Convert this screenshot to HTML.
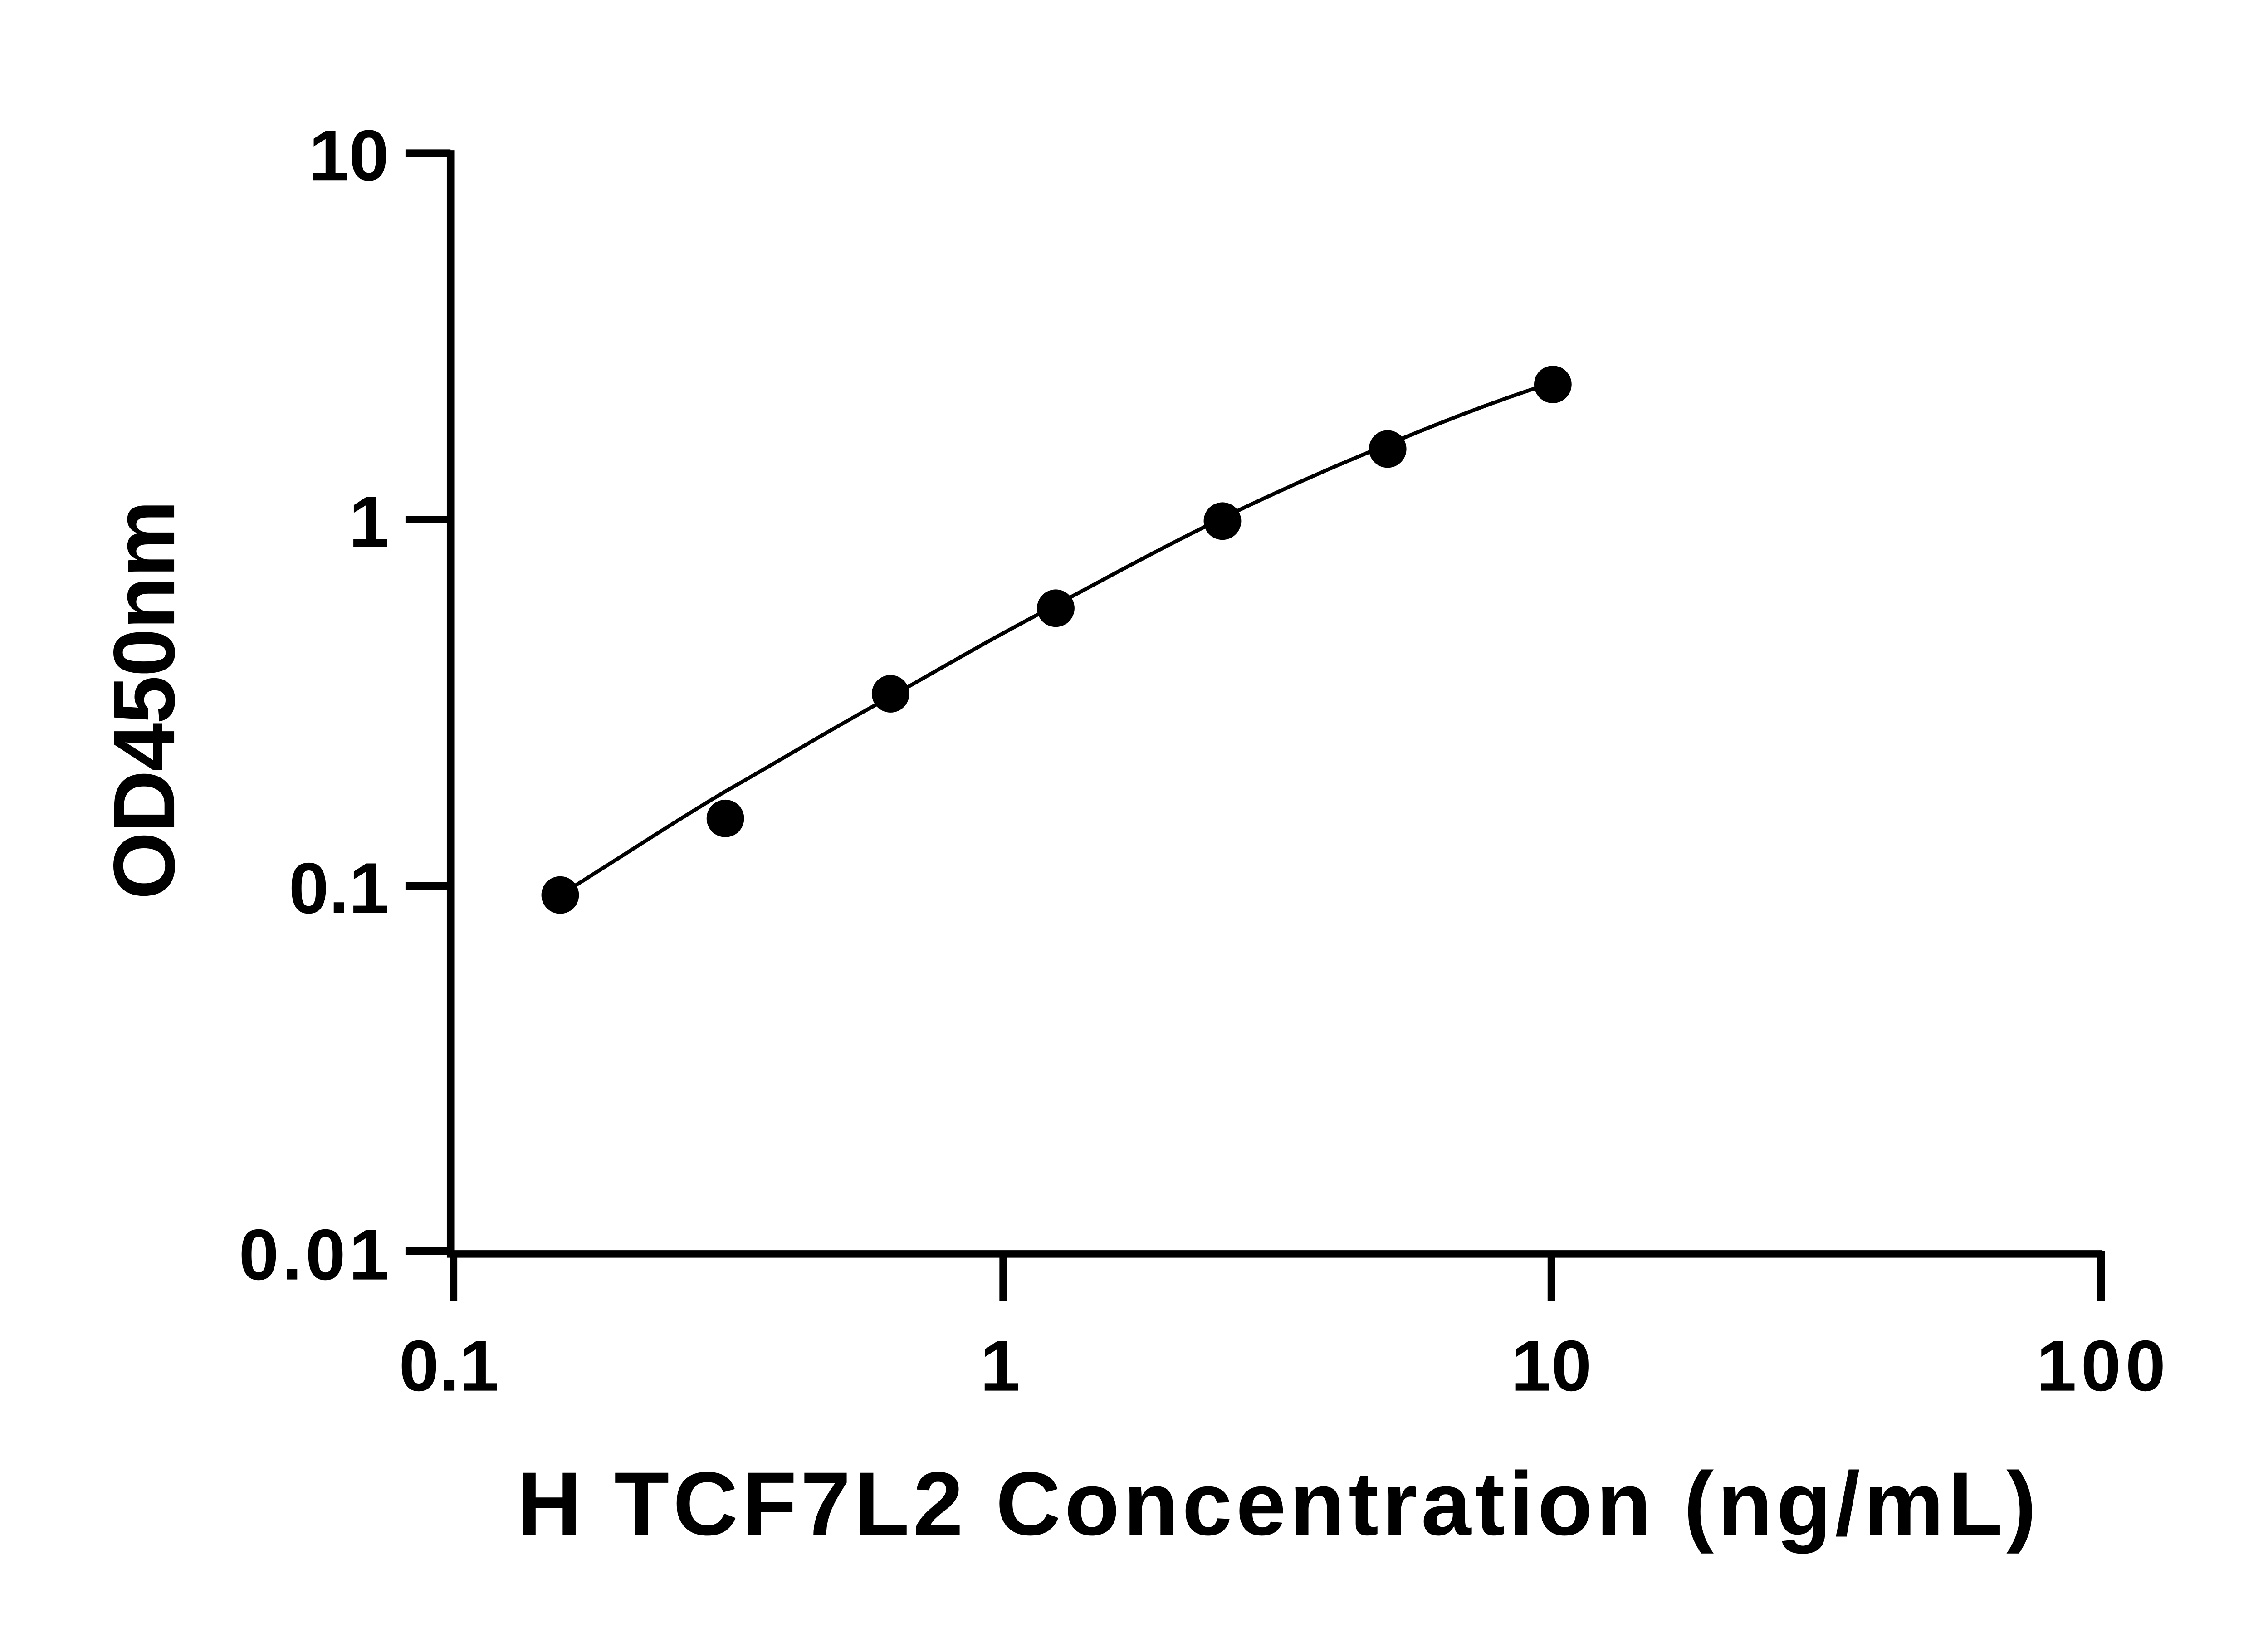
<!DOCTYPE html>
<html><head><meta charset="utf-8"><style>html,body{margin:0;padding:0;background:#fff}svg{display:block}</style></head>
<body>
<svg width="5142" height="3600" viewBox="0 0 1553.1 1087.4" preserveAspectRatio="none" xmlns="http://www.w3.org/2000/svg">
<g stroke="#000" stroke-width="5" fill="none" stroke-linecap="butt">
<path d="M300,100 V835 H1400"/>
<path d="M270,102 H300 M270,346 H300 M270,590 H300 M270,833 H300"/>
<path d="M302,833 V866 M668,833 V866 M1033,833 V866 M1399,833 V866"/>
</g>
<path d="M373,596 C410,573 446,549 483,527 C520,506 556,484 593,464 C630,443 666,422 703,403 C740,383 777,363 814,345 C851,327 887,311 924,296 C960,281 993,268 1030,256" stroke="#000" stroke-width="2.5" fill="none"/>
<g fill="#000">
<circle cx="373" cy="596" r="12.5"/><circle cx="483" cy="545" r="12.5"/><circle cx="593" cy="462" r="12.5"/><circle cx="703" cy="405" r="12.5"/><circle cx="814" cy="347" r="12.5"/><circle cx="924" cy="299" r="12.5"/><circle cx="1034" cy="256" r="12.5"/>
</g>
<g font-family="Liberation Sans, sans-serif" font-weight="bold" font-size="48" fill="#000">
<g text-anchor="end">
<text x="259" y="120">10</text><text x="259" y="364">1</text><text x="259" y="608">0.1</text><text x="259" y="852" textLength="100" lengthAdjust="spacing">0.01</text>
</g>
<g text-anchor="middle">
<text x="299" y="926">0.1</text><text x="666" y="926">1</text><text x="1033" y="926">10</text><text x="1399" y="926" textLength="86" lengthAdjust="spacing">100</text>
<text x="850" y="1022" font-size="60" textLength="1012" lengthAdjust="spacing">H TCF7L2 Concentration (ng/mL)</text>
<text transform="translate(116,466) rotate(-90)" font-size="58" textLength="266" lengthAdjust="spacing">OD450nm</text>
</g>
</g>
</svg>
</body></html>
